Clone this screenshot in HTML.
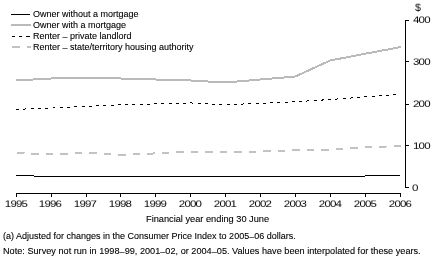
<!DOCTYPE html>
<html><head><meta charset="utf-8"><style>
html,body{margin:0;padding:0;background:#fff;width:435px;height:265px;overflow:hidden;position:relative}
.t{position:absolute;font-family:"Liberation Sans",sans-serif;font-size:10px;line-height:14px;color:#000;white-space:nowrap;transform-origin:0 0;will-change:transform;-webkit-text-stroke:0.1px #000}
.lg{left:33px;font-size:9px}
.yl{top:198px;width:40px;text-align:center;font-size:11.5px;transform:scale(1.0,0.82);transform-origin:50% 0;-webkit-text-stroke:0px #000;letter-spacing:-0.8px}
.yv{left:412.5px;font-size:11.5px;transform:scale(1.0,0.82);letter-spacing:-0.8px;-webkit-text-stroke:0px #000}
svg{position:absolute;left:0;top:0}
</style></head><body>
<svg width="435" height="265" viewBox="0 0 435 265" shape-rendering="crispEdges" fill="none">
<g stroke="#000" stroke-width="1">
<path d="M16,193.5 H400.5"/>
<line x1="16.5" y1="193" x2="16.5" y2="197"/><line x1="51.5" y1="193" x2="51.5" y2="197"/><line x1="86.5" y1="193" x2="86.5" y2="197"/><line x1="120.5" y1="193" x2="120.5" y2="197"/><line x1="155.5" y1="193" x2="155.5" y2="197"/><line x1="190.5" y1="193" x2="190.5" y2="197"/><line x1="225.5" y1="193" x2="225.5" y2="197"/><line x1="260.5" y1="193" x2="260.5" y2="197"/><line x1="295.5" y1="193" x2="295.5" y2="197"/><line x1="330.5" y1="193" x2="330.5" y2="197"/><line x1="365.5" y1="193" x2="365.5" y2="197"/><line x1="400.5" y1="193" x2="400.5" y2="197"/>
<path d="M405.5,20 V187.5"/>
<line x1="405" y1="20.5" x2="409" y2="20.5"/><line x1="405" y1="61.5" x2="409" y2="61.5"/><line x1="405" y1="104.5" x2="409" y2="104.5"/><line x1="405" y1="145.5" x2="409" y2="145.5"/><line x1="405" y1="187.5" x2="409" y2="187.5"/>
</g>
<path d="M16,175.5 H34 M34,176.5 H365 M365,175.5 H400" stroke="#000" stroke-width="1"/>
<polyline points="16.00,80.45 50.91,78.50 85.82,78.20 120.73,78.50 155.64,79.50 190.55,80.50 225.45,82.50 260.36,79.50 295.27,76.50 330.18,60.50 365.09,53.75 401.00,47.00" stroke="#bababa" stroke-width="2"/>
<polyline points="16.00,109.32 50.91,108.10 85.82,106.40 120.73,104.76 155.64,103.86 190.55,102.95 225.45,104.78 260.36,103.27 295.27,101.80 330.18,99.50 365.09,96.95 400.00,94.40" stroke="#000" stroke-width="1" stroke-dasharray="3 4.26" stroke-dashoffset="-0.24"/>
<polyline points="16.00,153.06 50.91,154.45 85.82,152.50 120.73,154.90 155.64,153.39 190.55,151.87 225.45,152.45 260.36,151.39 295.27,150.33 330.18,149.55 365.09,147.22 401.00,146.02" stroke="#c2c2c2" stroke-width="2" stroke-dasharray="7.5 7" stroke-dashoffset="-1"/>
<g stroke-width="1">
<path d="M11,14.5 H30" stroke="#000"/>
<path d="M11,25 H31" stroke="#bababa" stroke-width="2"/>
<path d="M12,36.5 H15 M19,36.5 H22 M26,36.5 H30" stroke="#000"/>
<path d="M12,47 H20 M27,47 H31" stroke="#c2c2c2" stroke-width="2"/>
</g>
</svg>
<div class="t lg" style="top:7px;transform:scaleX(1)">Owner without a mortgage</div><div class="t lg" style="top:18px;transform:scaleX(1)">Owner with a mortgage</div><div class="t lg" style="top:29px;transform:scaleX(1)">Renter <span style="position:relative;top:1px">–</span> private landlord</div><div class="t lg" style="top:40px;transform:scaleX(1)">Renter <span style="position:relative;top:1px">–</span> state/territory housing authority</div>
<div class="t" style="left:415px;top:1px;font-size:11px;transform:scale(0.95,0.9);-webkit-text-stroke:0px #000">$</div>
<div class="t yv" style="top:14px">400</div><div class="t yv" style="top:56px">300</div><div class="t yv" style="top:98px">200</div><div class="t yv" style="top:140px">100</div><div class="t yv" style="top:182px;left:411.6px;transform:scale(1.0,0.82)">0</div>
<div class="t yl" style="left:-4.50px">1995</div><div class="t yl" style="left:30.41px">1996</div><div class="t yl" style="left:65.32px">1997</div><div class="t yl" style="left:100.23px">1998</div><div class="t yl" style="left:135.14px">1999</div><div class="t yl" style="left:170.05px">2000</div><div class="t yl" style="left:204.95px">2001</div><div class="t yl" style="left:239.86px">2002</div><div class="t yl" style="left:274.77px">2003</div><div class="t yl" style="left:309.68px">2004</div><div class="t yl" style="left:344.59px">2005</div><div class="t yl" style="left:379.50px">2006</div>
<div class="t" style="left:146px;top:212px;font-size:9px;transform:scaleX(1.025)">Financial year ending 30 June</div>
<div class="t" style="left:3px;top:229px;font-size:9px;transform:scaleX(1)">(a) Adjusted for changes in the Consumer Price Index to 2005<span style="position:relative;top:1px">–</span>06 dollars.</div>
<div class="t" style="left:3px;top:244px;font-size:9px;transform:scaleX(1.017)">Note: Survey not run in 1998<span style="position:relative;top:1px">–</span>99, 2001<span style="position:relative;top:1px">–</span>02, or 2004<span style="position:relative;top:1px">–</span>05. Values have been interpolated for these years.</div>
</body></html>
